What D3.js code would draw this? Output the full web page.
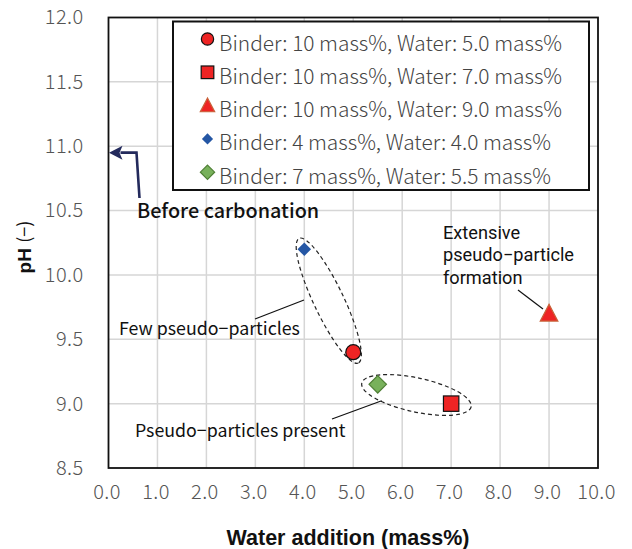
<!DOCTYPE html>
<html><head><meta charset="utf-8">
<script src="https://cdn.jsdelivr.net/npm/d3@7"></script>
<style>
body{margin:0;background:#fff;}
svg{display:block;}
</style></head>
<body>
<svg id="chart" width="632" height="549"></svg>
<script>
// ---- data ----
const seriesLabels = [
  "Binder: 10 mass%, Water: 5.0 mass%",
  "Binder: 10 mass%, Water: 7.0 mass%",
  "Binder: 10 mass%, Water: 9.0 mass%",
  "Binder: 4 mass%, Water: 4.0 mass%",
  "Binder: 7 mass%, Water: 5.5 mass%"
];
const waterAddition = [5.0, 7.0, 9.0, 4.0, 5.5];
const pHValues = [9.4, 9.0, 9.7, 10.2, 9.15];
const markerShapes = ["circle", "square", "triangle", "diamond", "diamond"];
const xTicks = [0,1,2,3,4,5,6,7,8,9,10];
const yTicks = [8.5,9.0,9.5,10.0,10.5,11.0,11.5,12.0];
const beforeCarbonationPH = 10.95;
const extensiveLines = ["Extensive","pseudo−particle","formation"];

// ---- styles ----
const fills = ["#ee2424","#ee2424","#ee2424","#2456a4","#78b15b"];
const strokes = ["#111","#111","#c8633a","none","#4f7f35"];
const sizes = [7.5, 7.7, 8.8, 6.8, 8.7];
const cjk = "'Noto Sans CJK JP','Noto Sans',sans-serif";

const svg = d3.select("#chart");
const L = 108.5, R = 598, T = 17.5, B = 468;
const x = d3.scaleLinear().domain([0,10]).range([L,R]);
const y = d3.scaleLinear().domain([8.5,12]).range([B,T]);

// gridlines
svg.append("g").selectAll("line").data(xTicks.slice(1,-1)).join("line")
  .attr("x1",d=>x(d)).attr("x2",d=>x(d)).attr("y1",T).attr("y2",B)
  .attr("stroke","#d6d6d6").attr("stroke-width",1.5);
svg.append("g").selectAll("line").data(yTicks.slice(1,-1)).join("line")
  .attr("y1",d=>y(d)).attr("y2",d=>y(d)).attr("x1",L).attr("x2",R)
  .attr("stroke","#d6d6d6").attr("stroke-width",1.5);

// axes via d3
const xAxis = svg.append("g").attr("transform",`translate(0,${B})`)
  .call(d3.axisBottom(x).tickValues(xTicks).tickFormat(d3.format(".1f")).tickSize(0).tickPadding(20));
const yAxis = svg.append("g").attr("transform",`translate(${L},0)`)
  .call(d3.axisLeft(y).tickValues(yTicks).tickFormat(d3.format(".1f")).tickSize(0).tickPadding(25));
[xAxis,yAxis].forEach(a=>{
  a.select(".domain").remove();
  a.selectAll("text").attr("font-family",cjk).attr("font-size",20).attr("fill","#555")
    .attr("font-weight",300).attr("letter-spacing",0.4);
});
xAxis.selectAll("text").attr("dy","0.55em").attr("dx",-2);

// plot border
svg.append("rect").attr("x",L).attr("y",T).attr("width",R-L).attr("height",B-T)
  .attr("fill","none").attr("stroke","#111").attr("stroke-width",1.8);

// symbols
function drawMarker(g, shape, cx, cy, s, fill, stroke){
  let el;
  if(shape==="circle"){
    el = g.append("circle").attr("cx",cx).attr("cy",cy).attr("r",s);
  } else if(shape==="square"){
    el = g.append("rect").attr("x",cx-s).attr("y",cy-s).attr("width",2*s).attr("height",2*s);
  } else if(shape==="triangle"){
    const h = s*1.9;
    el = g.append("path").attr("d",`M${cx},${cy-h*0.55}L${cx+s},${cy+h*0.45}L${cx-s},${cy+h*0.45}Z`);
  } else {
    el = g.append("path").attr("d",`M${cx},${cy-s}L${cx+s},${cy}L${cx},${cy+s}L${cx-s},${cy}Z`);
  }
  el.attr("fill",fill).attr("stroke",stroke).attr("stroke-width",stroke==="none"?0:1.2);
}

// ellipses (dashed groupings)
const groups = [[3,0],[4,1]];
const ePad = [12, 18], eMinor = [15, 17];
groups.forEach((gp,i)=>{
  const p1=[x(waterAddition[gp[0]]),y(pHValues[gp[0]])];
  const p2=[x(waterAddition[gp[1]]),y(pHValues[gp[1]])];
  const cx=(p1[0]+p2[0])/2 + (i===1?2:0), cy=(p1[1]+p2[1])/2 + (i===1?1:0);
  const ang=Math.atan2(p2[1]-p1[1],p2[0]-p1[0])*180/Math.PI - (i===1?2.5:0);
  const a=Math.hypot(p2[0]-p1[0],p2[1]-p1[1])/2+ePad[i];
  svg.append("ellipse").attr("cx",0).attr("cy",0).attr("rx",a).attr("ry",eMinor[i])
    .attr("transform",`translate(${cx},${cy}) rotate(${ang})`)
    .attr("fill","none").attr("stroke","#222").attr("stroke-width",1.2).attr("stroke-dasharray","4,3");
});

// points
const pts = svg.append("g");
waterAddition.forEach((w,i)=>drawMarker(pts, markerShapes[i], x(w), y(pHValues[i]), sizes[i], fills[i], strokes[i]));

// legend
svg.append("rect").attr("x",173).attr("y",21.5).attr("width",416).attr("height",168.5)
  .attr("fill","#fff").attr("stroke","#111").attr("stroke-width",2);
const lg = svg.append("g");
seriesLabels.forEach((lab,i)=>{
  const cy = 39 + i*33.3;
  drawMarker(lg, markerShapes[i], 207.5, cy, Math.min(sizes[i]*0.82, 7.2), fills[i], strokes[i]);
  lg.append("text").attr("x",219).attr("y",cy+11.5).text(lab)
    .attr("font-family",cjk).attr("font-size",20.9).attr("fill","#444").attr("font-weight",300);
});

// annotations
const ann = svg.append("g").attr("font-family",cjk).attr("fill","#111").attr("font-size",17.8);
ann.append("text").attr("x",137).attr("y",218).text("Before carbonation").attr("font-size",19.8).attr("font-weight",500);
ann.append("text").attr("x",119).attr("y",334.5).text("Few pseudo−particles");
ann.append("text").attr("x",135).attr("y",436.5).text("Pseudo−particles present");
extensiveLines.forEach((t,i)=>ann.append("text").attr("x",443).attr("y",238.5+i*22.7)
  .attr("font-family","Roboto,'Noto Sans',sans-serif").attr("font-size",18.2).text(t));

// leader lines
const leaders = [[255,319,304,300],[332,419,381.7,400.7],[518,290,543,309]];
leaders.forEach(l=>svg.append("line").attr("x1",l[0]).attr("y1",l[1]).attr("x2",l[2]).attr("y2",l[3])
  .attr("stroke","#111").attr("stroke-width",1.2));

// before carbonation arrow
const ax0 = x(0), ay = y(beforeCarbonationPH);
svg.append("path").attr("d",`M139.5,198L136.5,${ay}L${ax0+12},${ay}`)
  .attr("fill","none").attr("stroke","#232a5c").attr("stroke-width",2.6);
svg.append("path").attr("d",`M${ax0+0.5},${ay}L${ax0+14},${ay-7}L${ax0+11},${ay}L${ax0+14},${ay+7}Z`)
  .attr("fill","#232a5c");

// axis titles
svg.append("text").attr("x",348).attr("y",544.5).attr("text-anchor","middle")
  .attr("font-family","'Liberation Sans',Arial,sans-serif").attr("font-weight","bold").attr("font-size",21.5)
  .attr("fill","#111").text("Water addition (mass%)");
const yt = svg.append("text").attr("transform","translate(31,247) rotate(-90)").attr("text-anchor","middle")
  .attr("fill","#111");
yt.append("tspan").attr("font-family","'Liberation Sans',Arial,sans-serif").attr("font-weight","bold").attr("font-size",19).text("pH ");
yt.append("tspan").attr("font-family",cjk).attr("font-size",18).text("(−)");
</script>
</body></html>
